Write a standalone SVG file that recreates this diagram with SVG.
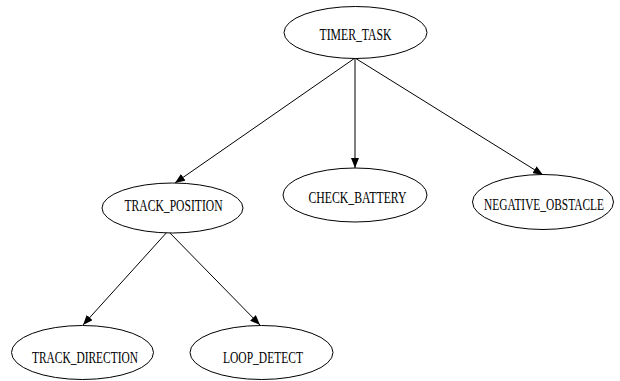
<svg xmlns="http://www.w3.org/2000/svg" width="620" height="381" viewBox="0 0 620 381">
  <defs>
    <marker id="arrow" viewBox="0 0 10 8" refX="10" refY="4" markerWidth="10" markerHeight="8" markerUnits="userSpaceOnUse" orient="auto">
      <path d="M0,0 L10,4 L0,8 Z" fill="#000"/>
    </marker>
    <style>
      .node ellipse { fill: #fff; stroke: #000; stroke-width: 1; }
      /* labels are set narrow and stretched upright */
      .node text { font-family: "Liberation Serif", "Times New Roman", serif; font-size: 12px; fill: #000; text-anchor: middle; }
      .edges line { stroke: #000; stroke-width: 1; marker-end: url(#arrow); }
    </style>
  </defs>
  <rect width="620" height="381" fill="#fff"/>

  <g class="edges" id="edges">
    <line x1="355" y1="58" x2="175" y2="183"/>
    <line x1="355" y1="58" x2="355" y2="168"/>
    <line x1="355" y1="58" x2="543" y2="175"/>
    <line x1="168" y1="231" x2="83" y2="325"/>
    <line x1="168" y1="231" x2="260" y2="325"/>
  </g>

  <g class="node" id="timer_task">
    <ellipse cx="355.5" cy="32.5" rx="71.5" ry="26"/>
    <text transform="translate(355.5,40) scale(1,1.33)" textLength="72" lengthAdjust="spacingAndGlyphs">TIMER_TASK</text>
  </g>
  <g class="node" id="track_position">
    <ellipse cx="172.5" cy="208" rx="70.5" ry="25"/>
    <text transform="translate(173.5,211) scale(1,1.33)" textLength="98" lengthAdjust="spacingAndGlyphs">TRACK_POSITION</text>
  </g>
  <g class="node" id="check_battery">
    <ellipse cx="355" cy="195" rx="72" ry="27"/>
    <text transform="translate(357.5,203) scale(1,1.33)" textLength="98" lengthAdjust="spacingAndGlyphs">CHECK_BATTERY</text>
  </g>
  <g class="node" id="negative_obstacle">
    <ellipse cx="543" cy="202" rx="70.5" ry="27.5"/>
    <text transform="translate(544,210) scale(1,1.33)" textLength="120" lengthAdjust="spacingAndGlyphs">NEGATIVE_OBSTACLE</text>
  </g>
  <g class="node" id="track_direction">
    <ellipse cx="82.5" cy="352.5" rx="71" ry="27"/>
    <text transform="translate(85,363) scale(1,1.33)" textLength="106" lengthAdjust="spacingAndGlyphs">TRACK_DIRECTION</text>
  </g>
  <g class="node" id="loop_detect">
    <ellipse cx="261.5" cy="352.5" rx="71.5" ry="27"/>
    <text transform="translate(263,363) scale(1,1.33)" textLength="80" lengthAdjust="spacingAndGlyphs">LOOP_DETECT</text>
  </g>
</svg>
